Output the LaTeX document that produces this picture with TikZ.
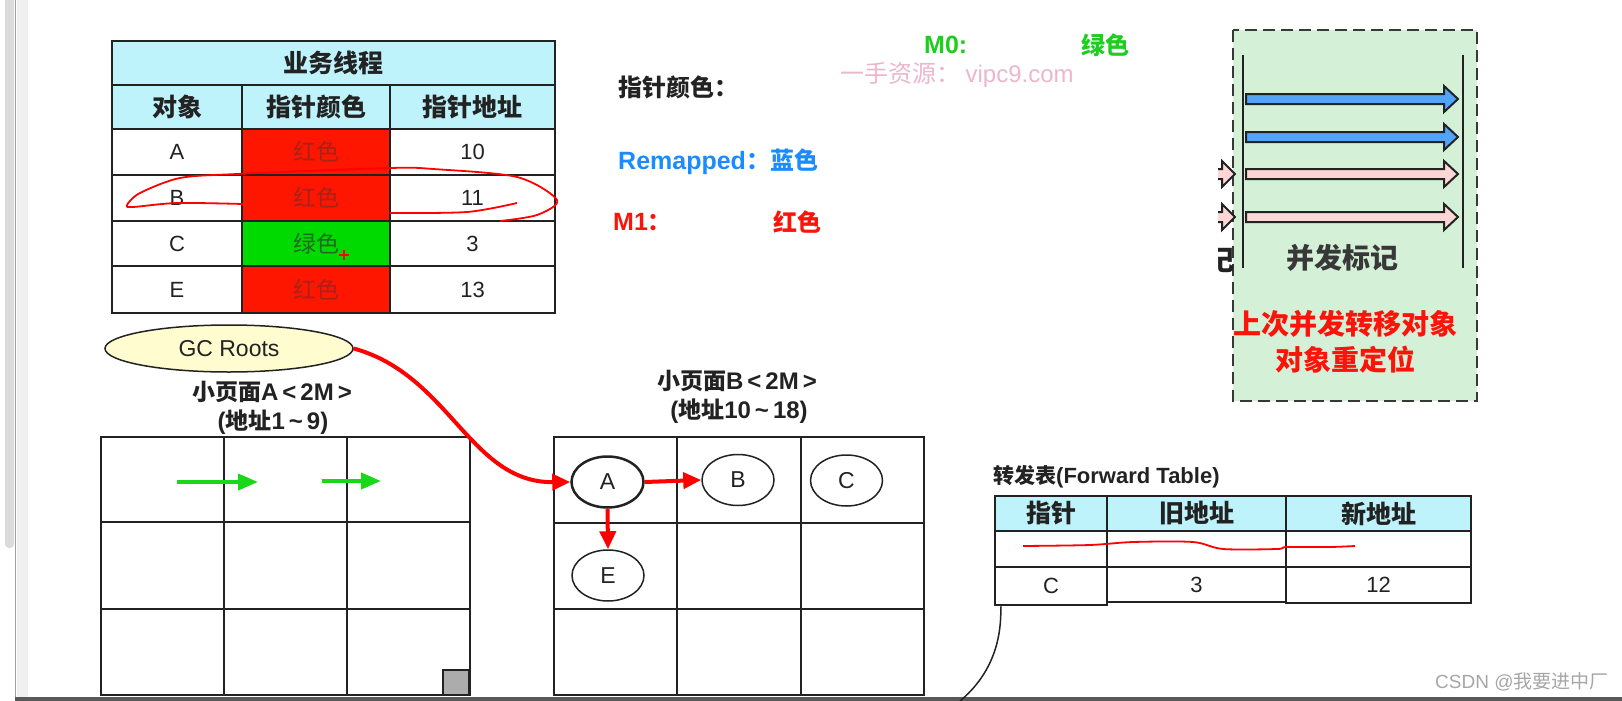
\documentclass[tikz,border=0pt]{standalone}
\usepackage{fontspec}
\setmainfont{Noto Sans CJK SC}
\newfontfamily\lat{Liberation Sans}
\usetikzlibrary{arrows.meta,shapes.geometric}
\definecolor{ink}{RGB}{34,34,34}
\definecolor{hdrblue}{RGB}{190,243,251}
\definecolor{cellred}{RGB}{255,22,0}
\definecolor{cellgreen}{RGB}{0,218,0}
\definecolor{txtred}{RGB}{165,35,25}
\definecolor{txtgreen}{RGB}{35,105,35}
\definecolor{mzero}{RGB}{30,205,30}
\definecolor{remap}{RGB}{25,140,255}
\definecolor{mone}{RGB}{250,20,10}
\definecolor{wmark}{RGB}{236,182,204}
\definecolor{panel}{RGB}{212,240,215}
\definecolor{arrblue}{RGB}{80,165,250}
\definecolor{arrpink}{RGB}{255,214,214}
\definecolor{rootfill}{RGB}{255,252,208}
\definecolor{arrgreen}{RGB}{25,215,25}

\begin{document}
\begin{tikzpicture}[x=1pt, y=-1pt,
    every node/.style={inner sep=0pt, text=ink},
    tcell/.style={draw=ink, line width=2.5pt, font=\fontsize{23}{23}\selectfont},
    tnum/.style={tcell, font=\fontsize{22}{22}\selectfont\lat},
    thead/.style={tcell, fill=hdrblue, font=\fontsize{25}{25}\selectfont\bfseries},
    fcell/.style={draw=ink, line width=2.5pt, font=\fontsize{22}{22}\selectfont\lat},
    fhead/.style={fcell, fill=hdrblue, font=\fontsize{25}{25}\selectfont\bfseries},
    gridline/.style={draw=ink, line width=2.5pt},
    obj/.style={ellipse, draw=ink, line width=1.5pt, fill=white, minimum width=72, minimum height=51, font=\fontsize{23}{23}\selectfont\lat},
    bold21/.style={font=\fontsize{21}{21}\selectfont\bfseries},
    bold23/.style={font=\fontsize{23}{23}\selectfont\bfseries},
    bold24/.style={font=\fontsize{24}{24}\selectfont\bfseries},
    bold28/.style={font=\fontsize{28}{28}\selectfont\bfseries},
    redarrow/.style={draw=red, line width=4pt, -{Triangle[length=18pt,width=16pt]}},
    greenarrow/.style={draw=arrgreen, line width=4pt, -{Triangle[length=20pt,width=16pt]}}]
    \useasboundingbox (0,0) rectangle (1622,701);
    % screen edges
    \fill[gray!28, rounded corners=4pt] (5,-6) rectangle (14,548);
    \fill[gray!12] (17,0) rectangle (28,701);
    \draw[gray!75, line width=1.5pt] (15.5,0) -- (15.5,701);
    \fill[black!65] (15,697) rectangle (1622,701);

    % thread table
    \node[thead, minimum width=443, minimum height=44] (title) at (333.5,63) {业务线程};
    \node[thead, minimum width=130, minimum height=44] (h1) at (177,107) {对象};
    \node[thead, minimum width=148, minimum height=44] (h2) at (316,107) {指针颜色};
    \node[thead, minimum width=165, minimum height=44] (h3) at (472.5,107) {指针地址};
    \node[tnum, minimum width=130, minimum height=46] (oA) at (177,152) {A};
    \node[tcell, fill=cellred, text=txtred, minimum width=148, minimum height=46] (cA) at (316,152) {红色};
    \node[tnum, minimum width=165, minimum height=46] (aA) at (472.5,152) {10};
    \node[tnum, minimum width=130, minimum height=46] (oB) at (177,198) {B};
    \node[tcell, fill=cellred, text=txtred, minimum width=148, minimum height=46] (cB) at (316,198) {红色};
    \node[tnum, minimum width=165, minimum height=46] (aB) at (472.5,198) {11};
    \node[tnum, minimum width=130, minimum height=45] (oC) at (177,243.5) {C};
    \node[tcell, fill=cellgreen, text=txtgreen, minimum width=148, minimum height=45] (cC) at (316,243.5) {绿色};
    \node[tnum, minimum width=165, minimum height=45] (aC) at (472.5,243.5) {3};
    \node[tnum, minimum width=130, minimum height=47] (oE) at (177,289.5) {E};
    \node[tcell, fill=cellred, text=txtred, minimum width=148, minimum height=47] (cE) at (316,289.5) {红色};
    \node[tnum, minimum width=165, minimum height=47] (aE) at (472.5,289.5) {13};
    % pen marks
    \draw[red, line width=1.8pt, line join=round] plot[smooth] coordinates {(243,204) (177,203) (133,207) (127,205) (140,193) (180,178) (237,174) (390,168) (433,169) (517,177) (557,200) (537,215) (500,221)};
    \draw[red, line width=1.8pt] plot[smooth] coordinates {(390,213) (467,212) (517,203)};
    \draw[red, line width=1.2pt] (339,255) -- (349,255) (344,250) -- (344,260);

    % colour legend
    \node[bold24, anchor=west] (ptrcolor) at (618,87) {指针颜色：};
    \node[bold24, text=mzero, anchor=west] (m0) at (924,45) {{\lat\fontsize{25}{25}\selectfont M0:}};
    \node[bold24, text=mzero, anchor=west] (m0c) at (1081,45) {绿色};
    \node[text=wmark, font=\fontsize{24}{24}\selectfont, anchor=west] (wm) at (840,75) {一手资源： {\lat vipc9.com}};
    \node[bold24, text=remap, anchor=west] (remapped) at (618,162) {{\lat\fontsize{25}{25}\selectfont Remapped}：蓝色};
    \node[bold24, text=mone, anchor=west] (m1) at (613,222) {{\lat\fontsize{25}{25}\selectfont M1}：};
    \node[bold24, text=mone, anchor=west] (m1c) at (773,222) {红色};

    % concurrent mark panel
    \filldraw[fill=panel, draw=ink!90, dash pattern=on 12pt off 6pt, line width=2.5pt] (1233,30) rectangle (1477,401);
    \begin{scope}
        \clip (1218,150) rectangle (1236,280);
        \foreach \y in {174,217}
            \filldraw[fill=arrpink, draw=ink, line width=2pt] (1200,\y-5) -- (1222,\y-5) -- (1222,\y-13) -- (1235,\y) -- (1222,\y+13) -- (1222,\y+5) -- (1200,\y+5) -- cycle;
        \node[bold28, anchor=east] (cutmark) at (1235,260) {记};
    \end{scope}
    \draw[ink, line width=2.5pt] (1243,55) -- (1243,268) (1463,55) -- (1463,268);
    \foreach \y/\c in {99/arrblue,137/arrblue,174/arrpink,217/arrpink}
        \filldraw[fill=\c, draw=ink, line width=2pt] (1246,\y-5) -- (1444,\y-5) -- (1444,\y-13) -- (1458,\y) -- (1444,\y+13) -- (1444,\y+5) -- (1246,\y+5) -- cycle;
    \node[bold28, text=ink!90] (cmark) at (1342,258) {并发标记};
    \node[bold28, text=mone] (reloc1) at (1345,324) {上次并发转移对象};
    \node[bold28, text=mone] (reloc2) at (1345,360) {对象重定位};

    % GC roots and pages
    \node[ellipse, draw=ink, line width=1.5pt, fill=rootfill, minimum width=248, minimum height=47, font=\fontsize{23}{23}\selectfont\lat] (gc) at (229,348.5) {GC Roots};
    \node[bold23] (pageA) at (272,392) {小页面{\lat\fontsize{24}{24}\selectfont A\,<\,2M\,>}};
    \node[bold23] (rangeA) at (273,422) {{\lat\fontsize{24}{24}\selectfont (}地址{\lat\fontsize{24}{24}\selectfont 1\,\string~\,9)}};
    \node[bold23] (pageB) at (737,381) {小页面{\lat\fontsize{24}{24}\selectfont B\,<\,2M\,>}};
    \node[bold23] (rangeB) at (739,411) {{\lat\fontsize{24}{24}\selectfont (}地址{\lat\fontsize{24}{24}\selectfont 10\,\string~\,18)}};
    \draw[gridline] (101,437) rectangle (470,695);
    \draw[gridline] (224,437) -- (224,695) (347,437) -- (347,695) (101,522) -- (470,522) (101,609) -- (470,609);
    \filldraw[fill=gray!65, draw=ink, line width=2pt] (443,670) rectangle (469,695);
    \coordinate (g1) at (177,482);
    \coordinate (g2) at (258,482);
    \coordinate (g3) at (322,481);
    \coordinate (g4) at (381,481);
    \draw[greenarrow] (g1) -- (g2);
    \draw[greenarrow] (g3) -- (g4);
    \draw[gridline] (554,437) rectangle (924,695);
    \draw[gridline] (677,437) -- (677,695) (801,437) -- (801,695) (554,523) -- (924,523) (554,609) -- (924,609);
    \node[obj, line width=2.5pt] (A) at (607.5,482) {A};
    \node[obj] (B) at (738,480) {B};
    \node[obj] (C) at (846.5,480.5) {C};
    \node[obj] (E) at (608,575.5) {E};
    \draw[redarrow] (gc.east) .. controls (450,375) and (470,483) .. (A.west);
    \draw[redarrow] (A.east) -- (B.west);
    \draw[redarrow] (A.south) -- (E.north);

    % forward table
    \node[bold21, anchor=west] (fwdtitle) at (993,477) {转发表{\lat\fontsize{22}{22}\selectfont (Forward Table)}};
    \node[fhead, minimum width=112, minimum height=35] (fh1) at (1051,513.5) {指针};
    \node[fhead, minimum width=179, minimum height=35] (fh2) at (1196.5,513.5) {旧地址};
    \node[fhead, minimum width=185, minimum height=35] (fh3) at (1378.5,513.5) {新地址};
    \node[fcell, minimum width=112, minimum height=36] (f1a) at (1051,549) {};
    \node[fcell, minimum width=179, minimum height=36] (f1b) at (1196.5,549) {};
    \node[fcell, minimum width=185, minimum height=36] (f1c) at (1378.5,549) {};
    \node[fcell, minimum width=112, minimum height=38] (fwdC) at (1051,586) {C};
    \node[fcell, minimum width=179, minimum height=35] (fwdold) at (1196.5,584.5) {3};
    \node[fcell, minimum width=185, minimum height=36] (fwdnew) at (1378.5,585) {12};
    \draw[red, line width=1.8pt] plot[smooth] coordinates {(1023,546) (1090,545) (1133,542) (1193,542) (1223,549) (1277,549) (1287,547) (1330,547) (1355,546)};
    \coordinate (fwdtail) at (960,701);
    \draw[ink, line width=1.5pt] ([xshift=7pt]fwdC.south west) .. controls (1002,650) and (985,680) .. (fwdtail);

    \node[text=gray!70, font=\fontsize{19}{19}\selectfont, anchor=west] (csdn) at (1435,682) {{\lat CSDN @}我要进中厂};
\end{tikzpicture}
\end{document}
